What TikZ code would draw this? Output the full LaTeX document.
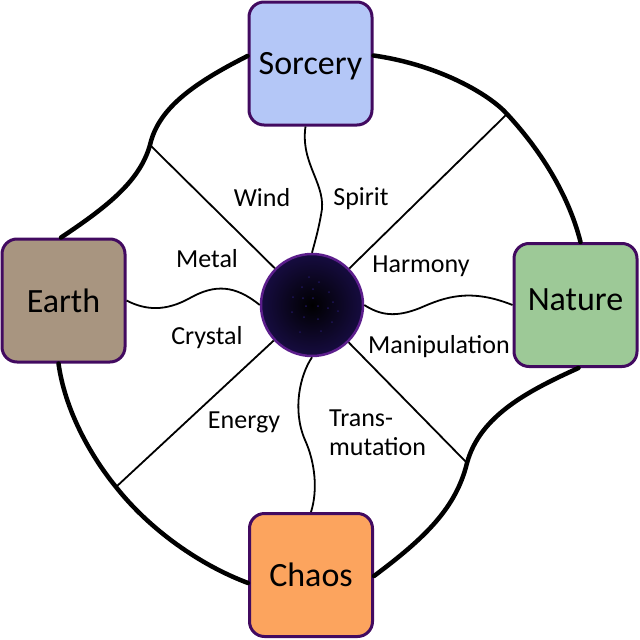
\documentclass[tikz,border=0pt]{standalone}
\usepackage{fontspec}
\setmainfont{Carlito}
\definecolor{boxline}{RGB}{66,10,96}
\definecolor{circline}{RGB}{92,30,140}
\definecolor{sorc}{RGB}{180,199,247}
\definecolor{earth}{RGB}{168,149,128}
\definecolor{nature}{RGB}{157,201,151}
\definecolor{chaos}{RGB}{252,164,94}
\definecolor{orbout}{RGB}{22,12,64}
\definecolor{orbdot}{RGB}{30,20,90}
\begin{document}
\begin{tikzpicture}[x=1pt,y=-1pt,
  box/.style={rounded corners=15, draw=boxline, line width=3, minimum width=123, minimum height=123, inner sep=0, font=\fontsize{34}{40}\selectfont},
  ring/.style={line width=4.5, line cap=round},
  spoke/.style={line width=1.8},
  lbl/.style={anchor=base, inner sep=0, font=\fontsize{26}{29}\selectfont}]
\useasboundingbox (0,0) rectangle (640,640);
% boxes
\node[box, fill=sorc, text depth=0pt]   (S) at (310.5,63.5) {Sorcery};
\node[box, fill=earth]  (E) at (63.5,300.5) {Earth};
\node[box, fill=nature, text depth=10pt] (N) at (575.5,305) {Nature};
\node[box, fill=chaos, text depth=0pt]  (C) at (311,575) {Chaos};
% center orb
\node[circle, minimum size=102, inner sep=0, draw=circline, line width=2.5,
      inner color=black, outer color=orbout] (O) at (312,305) {};
\foreach \p in {(309,277),(319,282),(302,287),(313,289),(329,292),(293,297),(303,298),(313,298),(333,302),(306,306),(318,306),(328,308),(338,311),(292,312),(304,317),(318,319),(332,322),(300,332),(321,331)}
  \fill[orbdot] \p circle (1);
% ring points
\coordinate (NWp) at (150,145);
\coordinate (NEp) at (507,114);
\coordinate (SEp) at (467,463);
\coordinate (SWp) at (116,487);
% outer ring
\draw[ring] ([yshift=8pt]S.east) .. controls (440,65) and (490,95) .. (NEp)
   .. controls (545,155) and (570,200) .. ([xshift=5pt]N.north);
\draw[ring] ([xshift=3pt]N.south) .. controls (530,390) and (480,415) .. (SEp)
   .. controls (456,508) and (425,538) .. ([yshift=-1pt]C.east);
\draw[ring] ([yshift=-8pt]C.west) .. controls (200,565) and (150,530) .. (SWp)
   .. controls (90,455) and (65,410) .. ([xshift=-5pt]E.south);
\draw[ring] ([xshift=-2.5pt]E.north) .. controls (110,205) and (140,180) .. (NWp)
   .. controls (158,110) and (190,85) .. ([yshift=7.5pt]S.west);
% straight spokes
\draw[spoke] (NWp) -- (O);
\draw[spoke] (NEp) -- (O);
\draw[spoke] (SEp) -- (O);
\draw[spoke] (SWp) -- (O);
% wavy spokes
\draw[spoke] ([xshift=-5pt]S.south) .. controls (300,165) and (328,185) .. (321,215)
   .. controls (318,232) and (314,245) .. (O.north);
\draw[spoke] (O.south) .. controls (300,375) and (292,410) .. (305,440)
   .. controls (315,462) and (318,490) .. (C.north);
\draw[spoke] (E.east) .. controls (145,310) and (165,312) .. (190,298)
   .. controls (215,284) and (235,285) .. (O.west);
\draw[spoke] (O.east) .. controls (380,315) and (395,318) .. (420,308)
   .. controls (445,297) and (470,288) .. (N.west);
% labels
\node[lbl] (lWind) at (262,206) {Wind};
\node[lbl] (lSpirit) at (361,205) {Spirit};
\node[lbl] (lMetal) at (207,267) {Metal};
\node[lbl] (lHarmony) at (421,272) {Harmony};
\node[lbl] (lCrystal) at (207,344) {Crystal};
\node[lbl] (lManip) at (439,353) {Manipulation};
\node[lbl] (lEnergy) at (244,428) {Energy};
\node[lbl, anchor=base west, align=left] (lTrans) at (329,455) {Trans-\\mutation};
\end{tikzpicture}
\end{document}
